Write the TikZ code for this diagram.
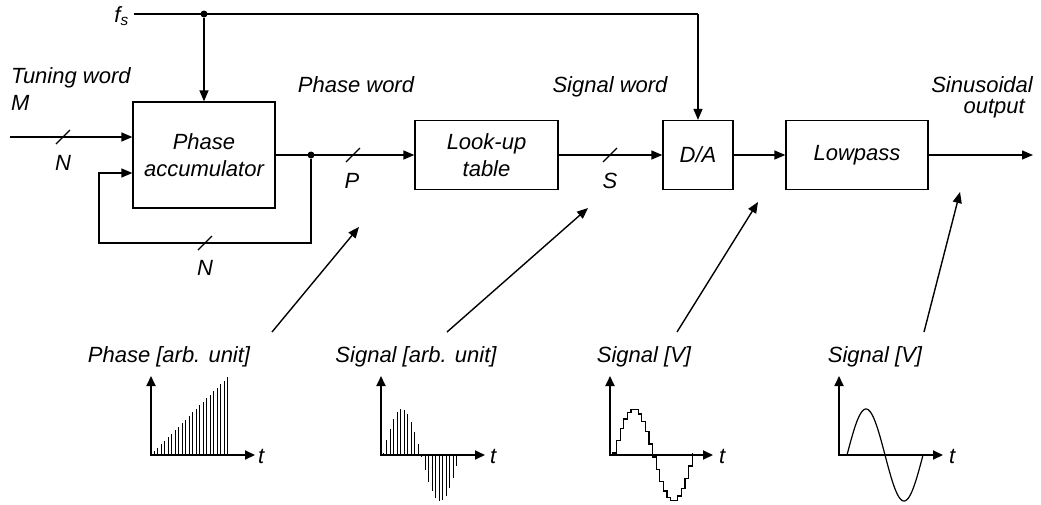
\documentclass[tikz,border=0pt]{standalone}
\usepackage{fontspec}
\setmainfont{Liberation Sans}
\usetikzlibrary{arrows.meta}
\begin{document}
\begin{tikzpicture}[x=1pt,y=-1pt,
  lbl/.style={font=\fontsize{22}{27}\selectfont\itshape, inner sep=0pt},
  blk/.style={draw, line width=1.3pt, font=\fontsize{22}{27}\selectfont\itshape, align=center, inner sep=0pt},
  conn/.style={line width=1.4pt},
  arr/.style={conn, -{Triangle[length=11pt,width=9pt]}},
  bus/.style={line width=1.2pt},
  junc/.style={circle, fill, inner sep=0pt, minimum size=7pt},
  axis/.style={line width=1.8pt, {Triangle[length=10pt,width=9pt]}-{Triangle[length=10pt,width=9pt]}},
  sample/.style={line width=0.9pt},
  curve/.style={line width=1.2pt}]
\useasboundingbox (0,0) rectangle (1041,504);

% blocks
\node[blk, minimum width=142pt, minimum height=106pt] (acc) at (204,155) {Phase\\accumulator};
\node[blk, minimum width=143pt, minimum height=69pt] (lut) at (486.5,155) {Look-up\\table};
\node[blk, minimum width=70pt, minimum height=69pt] (da) at (698,155) {D/A};
\node[blk, minimum width=142pt, minimum height=69pt] (lp) at (857,155) {Lowpass};

% clock
\node[lbl, anchor=east] (fs) at (129,16) {f\textsubscript{s}};
\coordinate (fsa) at (134,14);
\coordinate (fsb) at (698,14);
\node[junc] (j1) at (acc.north |- fsa) {};
\draw[conn] (fsa) -- (fsb);
\draw[arr] (fsb) -- (da.north);
\draw[arr] (j1) -- (acc.north);

% tuning word input
\coordinate (in) at (10,137);
\draw[arr] (in) -- (in -| acc.west);
\draw[bus] (56,144) -- (70,130);
\node[lbl] (nin) at (63,163) {N};
\node[lbl, anchor=base west] (tw) at (11,83) {Tuning word};
\node[lbl, anchor=base west] (mw) at (11,110) {M};

% accumulator output and feedback
\node[junc] (j2) at (311,155) {};
\draw[arr] (acc.east) -- (lut.west);
\draw[bus] (346,162) -- (360,148);
\node[lbl] (pl) at (352,181) {P};
\coordinate (fb1) at (311,243);
\coordinate (fb2) at (99,243);
\coordinate (fb3) at (99,173);
\draw[arr] (j2) -- (fb1) -- (fb2) -- (fb3) -- (fb3 -| acc.west);
\draw[bus] (198,250) -- (212,236);
\node[lbl] (nfb) at (205,268) {N};
\node[lbl, anchor=base] (pw) at (356,92) {Phase word};

% LUT -> D/A -> Lowpass -> out
\draw[arr] (lut.east) -- (da.west);
\draw[bus] (603,162) -- (617,148);
\node[lbl] (sl) at (610,181) {S};
\node[lbl, anchor=base] (sw) at (610,92) {Signal word};
\draw[arr] (da.east) -- (lp.west);
\coordinate (out) at (1033,155);
\draw[arr] (lp.east) -- (out);
\node[lbl, anchor=base east] (so1) at (1033,92) {Sinusoidal};
\node[lbl, anchor=base east] (so2) at (1025,113) {output};

% bottom labels
\node[lbl, anchor=base] (l1) at (169,362) {Phase [arb. unit]};
\node[lbl, anchor=base] (l2) at (416,362) {Signal [arb. unit]};
\node[lbl, anchor=base] (l3) at (644,362) {Signal [V]};
\node[lbl, anchor=base] (l4) at (875,362) {Signal [V]};

% pointers
\coordinate (p1a) at (272,332); \coordinate (p1b) at (359,227);
\coordinate (p2a) at (447,332); \coordinate (p2b) at (588,208);
\coordinate (p3a) at (677,332); \coordinate (p3b) at (758,202);
\coordinate (p4a) at (924,332); \coordinate (p4b) at (960,192);
\draw[arr] (p1a) -- (p1b);
\draw[arr] (p2a) -- (p2b);
\draw[arr] (p3a) -- (p3b);
\draw[arr] (p4a) -- (p4b);

% plot 1: phase ramp
\foreach \k in {0,...,21} \draw[sample] ({154+3.5*\k},455) -- ++(0,{-78*(\k+1)/22});
\draw[axis] (151,376) -- (151,455) -- (255,455);
\node[lbl, anchor=base west] (t1) at (258,463) {t};

% plot 2: sampled sine
\foreach \k in {0,...,21} \draw[sample] ({383+3.5*\k},455) -- ({383+3.5*\k},{455-46*sin(360*(\k+0.15)/22)});
\draw[axis] (381,376) -- (381,455) -- (485,455);
\node[lbl, anchor=base west] (t2) at (490,463) {t};

% plot 3: staircase
\draw[curve] (610,455) -- (613,455) -- plot[const plot, domain=0:22, samples=23] ({613+3.6*\x},{455-46*sin(360*(\x+0.15)/22)});
\draw[axis] (610,376) -- (610,455) -- (713,455);
\node[lbl, anchor=base west] (t3) at (719,463) {t};

% plot 4: smooth sine
\draw[curve] plot[domain=0:76, samples=80, smooth] ({847+\x},{455-46*sin(\x/76*360)});
\draw[axis] (839,376) -- (839,455) -- (943,455);
\node[lbl, anchor=base west] (t4) at (949,463) {t};
\end{tikzpicture}
\end{document}
